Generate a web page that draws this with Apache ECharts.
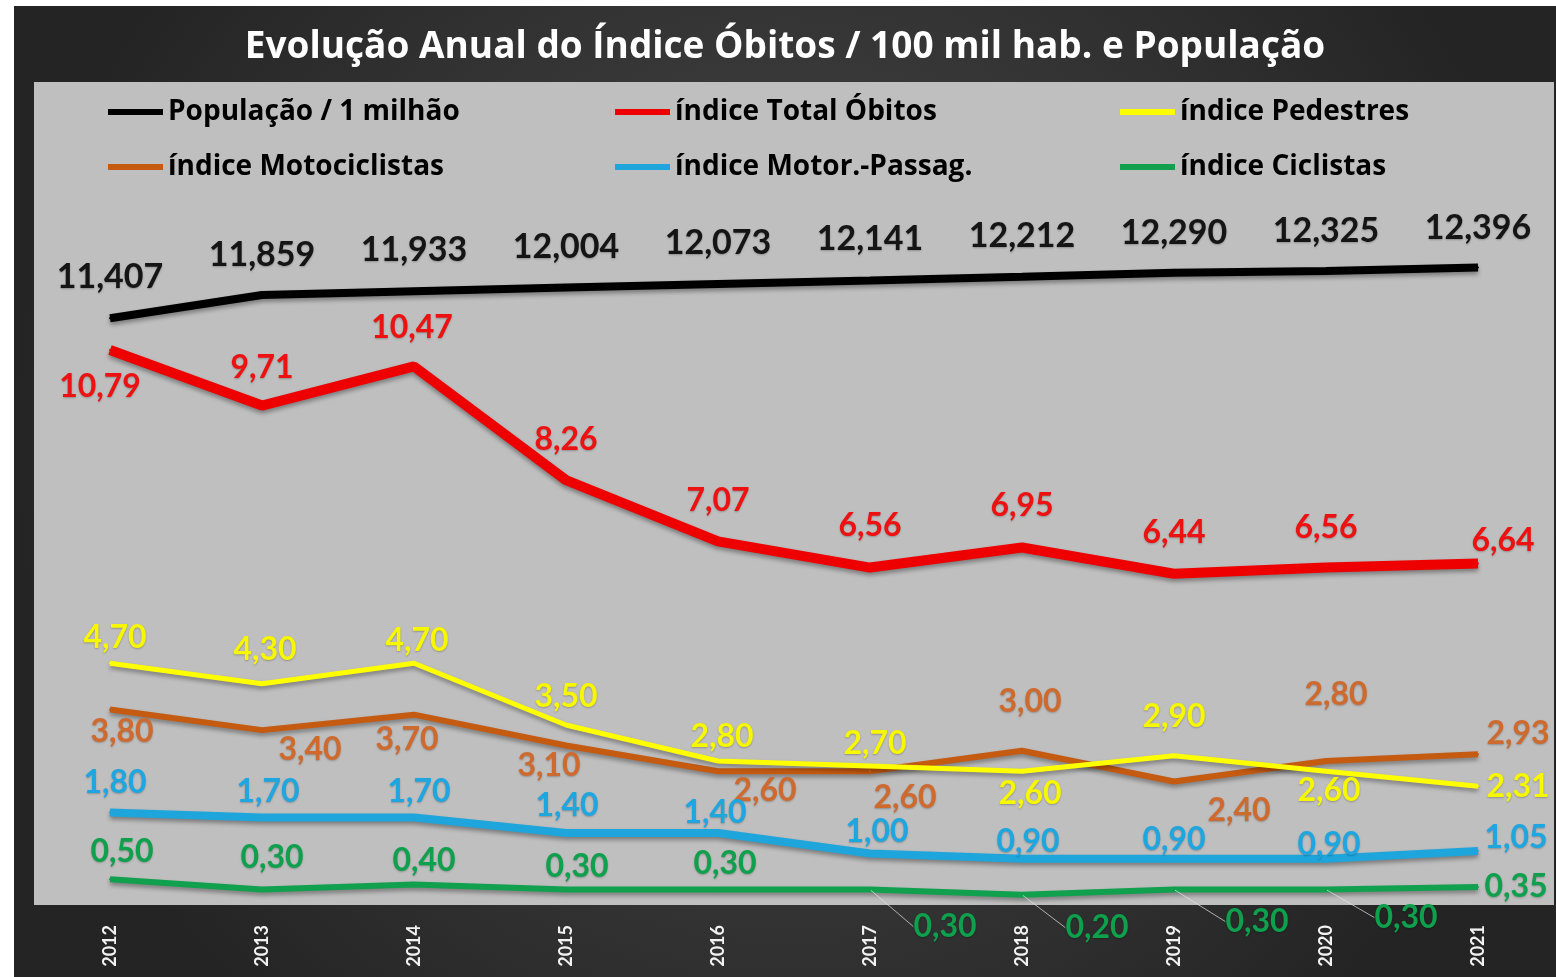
<!DOCTYPE html>
<html>
<head>
<meta charset="utf-8">
<title>Evolução Anual do Índice Óbitos / 100 mil hab. e População</title>
<script src="https://cdn.jsdelivr.net/npm/echarts@6/dist/echarts.min.js"></script>
<style>
  html, body { margin: 0; padding: 0; background: #fff; }
  #chart { position: absolute; left: 14px; top: 6px; width: 1542px; height: 971px; }
</style>
</head>
<body>
<div id="chart"></div>
<script>
const years = ["2012", "2013", "2014", "2015", "2016", "2017", "2018", "2019", "2020", "2021"];
const populacao = [11.407, 11.859, 11.933, 12.004, 12.073, 12.141, 12.212, 12.290, 12.325, 12.396];
const totalObitos = [10.79, 9.71, 10.47, 8.26, 7.07, 6.56, 6.95, 6.44, 6.56, 6.64];
const pedestres = [4.70, 4.30, 4.70, 3.50, 2.80, 2.70, 2.60, 2.90, 2.60, 2.31];
const motociclistas = [3.80, 3.40, 3.70, 3.10, 2.60, 2.60, 3.00, 2.40, 2.80, 2.93];
const motorPassag = [1.80, 1.70, 1.70, 1.40, 1.40, 1.00, 0.90, 0.90, 0.90, 1.05];
const ciclistas = [0.50, 0.30, 0.40, 0.30, 0.30, 0.30, 0.20, 0.30, 0.30, 0.35];

// label offsets from each point (pixels)
const offPop = [[0, -41], [0, -40], [0, -41], [0, -41], [0, -41], [0, -41], [0, -41], [0, -40], [0, -40], [0, -39]];
const offTotal = [[-10, 37], [0, -38], [-2, -39], [0, -40], [0, -41], [0, -42], [0, -42], [0, -41], [0, -40], [25, -23]];
const offPed = [[5, -26], [3, -34], [3, -23], [0, -28], [4, -24], [5, -22], [8, 22], [0, -39], [3, 19], [40, 1]];
const offMoto = [[12, 22], [48, 20], [-7, 25], [-17, 20], [47, 19], [35, 26], [8, -49], [65, 29], [10, -66], [40, -21]];
const offMotor = [[5, -30], [6, -26], [5, -26], [1, -27], [-3, -20], [7, -22], [6, -17], [0, -19], [3, -14], [38, -13]];
const offCicl = [[12, -28], [10, -32], [10, -24], [11, -23], [7, -26], [75, 37], [75, 33], [83, 32], [80, 28], [38, 0]];
const leaderCicl = [5, 6, 7, 8];

const FONT = "Lato, 'Open Sans', sans-serif";
const WIDE_FONT = "'Open Sans', Lato, sans-serif";

function fmt(digits) {
  return (p) => p.value.toFixed(digits).replace(".", ",");
}

function makeSeries(name, values, color, labelColor, width, offsets, digits, fontSize, leaders) {
  return {
    name: name,
    type: "line",
    data: values.map((v, i) => ({
      value: v,
      labelLine: { show: leaders ? leaders.includes(i) : false }
    })),
    symbol: "circle",
    symbolSize: 2,
    itemStyle: { color: color },
    lineStyle: {
      color: color,
      width: width,
      shadowColor: "rgba(0,0,0,0.35)",
      shadowBlur: 4,
      shadowOffsetY: 3
    },
    label: {
      show: true,
      position: "inside",
      formatter: fmt(digits),
      color: labelColor,
      fontFamily: FONT,
      fontWeight: "bold",
      fontSize: fontSize,
      textShadowColor: "rgba(0,0,0,0.25)",
      textShadowBlur: 2,
      textShadowOffsetY: 1
    },
    labelLayout: (p) => ({ dx: offsets[p.dataIndex][0], dy: offsets[p.dataIndex][1] }),
    labelLine: {
      show: false,
      lineStyle: { color: "rgba(230,230,230,0.7)", width: 1 }
    },
    emphasis: { disabled: true },
    animation: false
  };
}

const chart = echarts.init(document.getElementById("chart"));

const legendText = {
  color: "#000",
  fontFamily: WIDE_FONT,
  fontWeight: "bold",
  fontSize: 28
};

function legendCol(left, names) {
  return {
    orient: "vertical",
    left: left,
    top: 87,
    itemGap: 27,
    itemWidth: 55,
    itemHeight: 6,
    icon: "rect",
    textStyle: legendText,
    data: names
  };
}

chart.setOption({
  backgroundColor: {
    type: "radial",
    x: 0.5,
    y: 0.45,
    r: 0.8,
    colorStops: [
      { offset: 0, color: "#4a4a4a" },
      { offset: 1, color: "#242424" }
    ]
  },
  title: {
    text: "Evolução Anual do Índice Óbitos / 100 mil hab. e População",
    left: "center",
    top: 18,
    textStyle: {
      color: "#fff",
      fontFamily: WIDE_FONT,
      fontWeight: "bold",
      fontSize: 37
    }
  },
  legend: [
    legendCol(89, ["População / 1 milhão", "índice Motociclistas"]),
    legendCol(596, ["índice Total Óbitos", "índice Motor.-Passag."]),
    legendCol(1101, ["índice Pedestres", "índice Ciclistas"])
  ],
  grid: {
    left: 20,
    right: 2,
    top: 76,
    bottom: 72,
    show: true,
    backgroundColor: "#bfbfbf",
    borderWidth: 0
  },
  xAxis: {
    type: "category",
    data: years,
    boundaryGap: true,
    axisLine: { show: false },
    axisTick: { show: false },
    axisLabel: {
      rotate: 90,
      margin: 20,
      color: "#f2f2f2",
      fontFamily: FONT,
      fontWeight: "bold",
      fontSize: 18
    }
  },
  yAxis: {
    type: "value",
    min: 0,
    max: 16,
    show: false,
    splitLine: { show: false }
  },
  series: [
    makeSeries("População / 1 milhão", populacao, "#000000", "#151515", 8, offPop, 3, 34),
    makeSeries("índice Total Óbitos", totalObitos, "#ee0000", "#ee1111", 10, offTotal, 2, 32),
    makeSeries("índice Motociclistas", motociclistas, "#c55a11", "#cf6a2e", 6, offMoto, 2, 32),
    makeSeries("índice Pedestres", pedestres, "#ffff00", "#f7f700", 5, offPed, 2, 32),
    makeSeries("índice Motor.-Passag.", motorPassag, "#1ea6dc", "#1ea6e0", 8, offMotor, 2, 32),
    makeSeries("índice Ciclistas", ciclistas, "#10a04e", "#0ea04c", 6, offCicl, 2, 32, leaderCicl)
  ]
});
</script>
</body>
</html>
